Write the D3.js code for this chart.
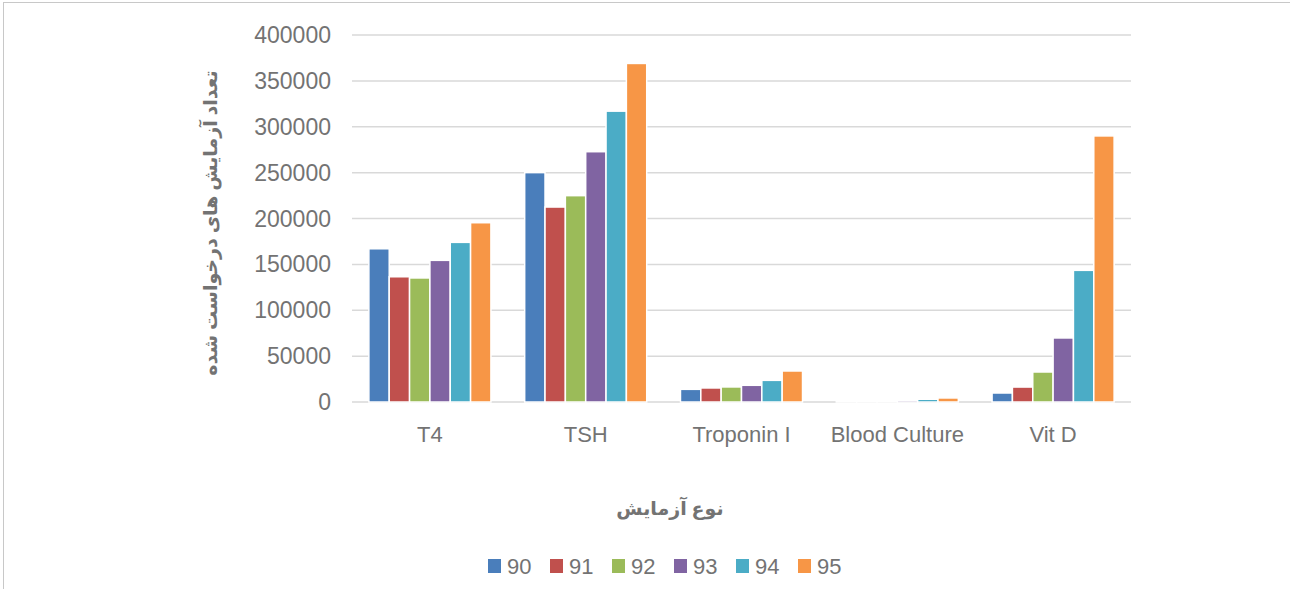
<!DOCTYPE html>
<html>
<head>
<meta charset="utf-8">
<script src="https://cdn.jsdelivr.net/npm/d3@7"></script>
<style>
  body { margin: 0; background: #fff; }
  text { font-family: "Liberation Sans", Arial, sans-serif; fill: #737373; }
</style>
</head>
<body>
<div id="chart"></div>
<script>
// Datos del gráfico
const categories = ["T4", "TSH", "Troponin I", "Blood Culture", "Vit D"];
const years = ["90", "91", "92", "93", "94", "95"];
const colors = ["#4a7ebb", "#c0504d", "#9bbb59", "#8064a2", "#4bacc6", "#f79646"];
const values = {
  "90": [167000, 250000, 13800, 600, 9800],
  "91": [136500, 212500, 15300, 300, 16300],
  "92": [135200, 224900, 16400, 400, 32700],
  "93": [154400, 272800, 18200, 1800, 69800],
  "94": [174000, 317000, 23600, 3000, 143500],
  "95": [195400, 369000, 33800, 4400, 290000]
};
const yTicks = [0, 50000, 100000, 150000, 200000, 250000, 300000, 350000, 400000];

const width = 1290, height = 589;
const margin = { left: 352, right: 159, top: 35, bottom: 187 };

const svg = d3.select("#chart").append("svg")
  .attr("width", width).attr("height", height);

// Marco exterior
svg.append("rect")
  .attr("x", 3.5).attr("y", 2.5)
  .attr("width", width + 10).attr("height", height + 10)
  .attr("fill", "none").attr("stroke", "#c8c8c8").attr("stroke-width", 1);

const x = d3.scaleBand().domain(categories)
  .range([margin.left, width - margin.right]).paddingInner(0).paddingOuter(0);
const y = d3.scaleLinear().domain([0, 400000])
  .range([height - margin.bottom, margin.top]);
const xs = d3.scaleBand().domain(years)
  .range([0, x.bandwidth()]).paddingInner(0).paddingOuter(0.83);

// Líneas de cuadrícula
svg.append("g").selectAll("line").data(yTicks).enter().append("line")
  .attr("x1", margin.left).attr("x2", width - margin.right)
  .attr("y1", d => y(d)).attr("y2", d => y(d))
  .attr("stroke", "#d9d9d9").attr("stroke-width", 1.5);

// Etiquetas del eje Y
svg.append("g").selectAll("text").data(yTicks).enter().append("text")
  .attr("x", 331).attr("y", d => y(d) + 8)
  .attr("text-anchor", "end").style("font-size", "23px")
  .text(d => d);

// Barras
years.forEach((yr, i) => {
  svg.append("g").selectAll("rect").data(values[yr]).enter().append("rect")
    .attr("x", (d, j) => x(categories[j]) + xs(yr))
    .attr("width", xs.bandwidth())
    .attr("y", d => y(d))
    .attr("height", d => y(0) - y(d))
    .attr("fill", colors[i])
    .attr("stroke", "#fff").attr("stroke-width", 1.5);
});

// Etiquetas de categorías
svg.append("g").selectAll("text").data(categories).enter().append("text")
  .attr("x", d => x(d) + x.bandwidth() / 2).attr("y", 442)
  .attr("text-anchor", "middle").style("font-size", "22px")
  .text(d => d);

// Títulos de ejes
svg.append("text")
  .attr("x", 670).attr("y", 515)
  .attr("text-anchor", "middle").attr("direction", "rtl")
  .style("font-size", "19px").style("font-weight", "bold")
  .style("font-family", "'Noto Sans', 'DejaVu Sans', sans-serif")
  .text("نوع آزمایش");

svg.append("text")
  .attr("transform", "translate(217,223) rotate(-90)")
  .attr("text-anchor", "middle").attr("direction", "rtl")
  .style("font-size", "19px").style("font-weight", "bold")
  .style("font-family", "'Noto Sans', 'DejaVu Sans', sans-serif")
  .text("تعداد آزمایش های درخواست شده");

// Leyenda
const legend = svg.append("g");
const legendX = [488, 550, 612, 674, 736, 798];
years.forEach((yr, i) => {
  legend.append("rect")
    .attr("x", legendX[i]).attr("y", 559)
    .attr("width", 13).attr("height", 14)
    .attr("fill", colors[i]);
  legend.append("text")
    .attr("x", legendX[i] + 19).attr("y", 574)
    .style("font-size", "22px")
    .text(yr);
});
</script>
</body>
</html>
